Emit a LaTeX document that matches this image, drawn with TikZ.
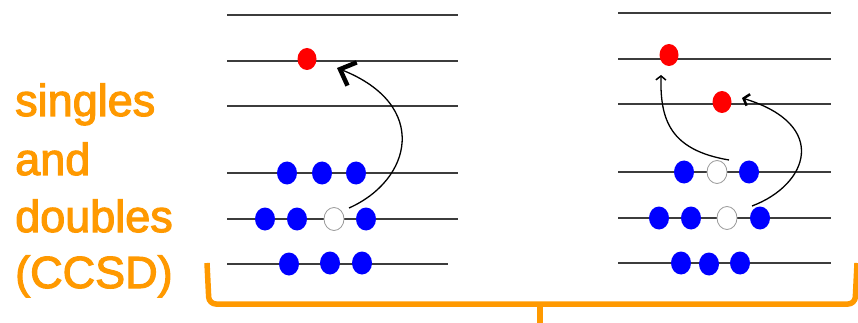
\documentclass[tikz,border=0pt]{standalone}
\usepackage{fontspec}
\setmainfont{Liberation Sans}
\newfontfamily\lblfont{Liberation Sans}[FakeBold=2.5]
\usetikzlibrary{shapes.geometric,arrows.meta}
\definecolor{brorange}{RGB}{255,153,0}
\definecolor{lvl}{RGB}{60,60,60}
\tikzset{
  level/.style={draw=lvl,line width=1.1pt},
  dotshape/.style={ellipse,inner sep=0pt,minimum width=20pt,minimum height=23pt},
  occ/.style={dotshape,fill=blue},
  hole/.style={dotshape,fill=white,draw=gray!80,line width=0.8pt},
  part/.style={dotshape,fill=red,minimum width=19pt,minimum height=22pt},
  exc/.style={draw=black,line width=1.3pt},
  lbl/.style={text=brorange,font=\lblfont\fontsize{45}{57}\selectfont,anchor=base west,inner sep=0pt},
  brace/.style={draw=brorange,line width=5.5pt}
}
\begin{document}
\begin{tikzpicture}[x=1pt,y=-1pt]
\useasboundingbox (0,0) rectangle (858,323);
% labels
\node[lbl] (t1) at (15,116) {singles};
\node[lbl] (t2) at (15,175) {and};
\node[lbl] (t3) at (15,232) {doubles};
\node[lbl] (t4) at (15,288) {(CCSD)};
% left panel levels
\foreach \y in {15,61,106,173,219}{\draw[level] (227,\y) -- (458,\y);}
\draw[level] (227,264) -- (448,264);
% right panel levels
\foreach \y in {13,59,104,172,218,263}{\draw[level] (618,\y) -- (831,\y);}
% left panel dots
\node[part] (lr) at (307,59) {};
\node[occ] (la1) at (287,173) {};
\node[occ] (la2) at (322,173) {};
\node[occ] (la3) at (356,173) {};
\node[occ] (lb1) at (265,219) {};
\node[occ] (lb2) at (297,219) {};
\node[hole] (lw) at (334,219) {};
\node[occ] (lb4) at (366,219) {};
\node[occ] (lc1) at (289,264) {};
\node[occ] (lc2) at (330,263) {};
\node[occ] (lc3) at (362,263) {};
% right panel dots
\node[part] (rr1) at (669,55) {};
\node[part] (rr2) at (722,102) {};
\node[occ] (ra1) at (684,172) {};
\node[hole] (rw1) at (717,172) {};
\node[occ] (ra3) at (749,172) {};
\node[occ] (rb1) at (659,218) {};
\node[occ] (rb2) at (691,218) {};
\node[hole] (rw2) at (727,218) {};
\node[occ] (rb4) at (760,218) {};
\node[occ] (rc1) at (681,263) {};
\node[occ] (rc2) at (709,264) {};
\node[occ] (rc3) at (740,263) {};
% excitation arrows
\draw[exc,-{Straight Barb[length=13pt,width=25pt,line width=4.5pt]}]
  ([shift={(15,-11)}]lw.center) .. controls (412,180) and (430,105) .. ([shift={(30,9)}]lr.center);
\draw[exc,-{Straight Barb[length=4pt,width=10pt,line width=1.5pt]}]
  ([shift={(12,-12)}]rw1.center) .. controls (670,150) and (660,120) .. ([shift={(-8,20)}]rr1.center);
\draw[exc,-{Straight Barb[length=5pt,width=12pt,line width=2.5pt]}]
  ([shift={(25,-12)}]rw2.center) .. controls (808,185) and (830,125) .. ([shift={(20,-4)}]rr2.center);
% brace
\coordinate (bl) at (207,263);
\coordinate (br) at (857,263);
\coordinate (bm) at (540,323);
\draw[brace,rounded corners=7pt] (bl) -- (209,304) -- (855,304) -- (br);
\draw[brace] (540,304) -- (bm);
\end{tikzpicture}
\end{document}
